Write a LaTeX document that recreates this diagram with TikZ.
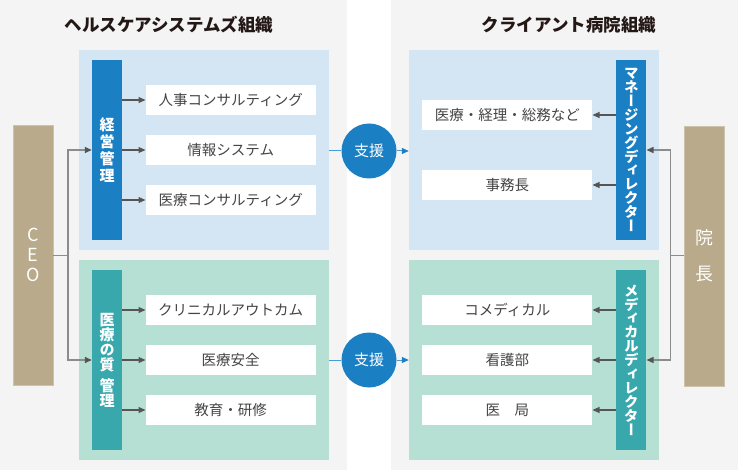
\documentclass[tikz,border=0pt]{standalone}
\usepackage{fontspec}
\setmainfont{Noto Sans CJK JP}
\newfontfamily\vjp[RawFeature=+vert]{Noto Sans CJK JP}
\usetikzlibrary{arrows.meta}
\definecolor{bggray}{HTML}{F4F4F4}
\definecolor{lblue}{HTML}{D4E6F4}
\definecolor{lgreen}{HTML}{B6E0D3}
\definecolor{dblue}{HTML}{1B7FC3}
\definecolor{teal}{HTML}{38A8AD}
\definecolor{tan}{HTML}{B8AA8A}
\definecolor{txt}{HTML}{444444}
\definecolor{ttl}{HTML}{231815}
\definecolor{arrgray}{HTML}{555555}
\definecolor{linegray}{HTML}{8C8C8C}
\definecolor{bline}{HTML}{4A9AD4}
\tikzset{
  cont/.style={minimum width=250pt,minimum height=200pt,inner sep=0pt},
  wbox/.style={fill=white,minimum width=170pt,minimum height=30pt,inner sep=0pt,text=txt,font=\fontsize{14.5pt}{16pt}\selectfont},
  bar/.style={minimum width=30pt,minimum height=180pt,inner sep=0pt,text=white,align=center},
  tanbox/.style={fill=tan,draw=tan!70!white,line width=0.6pt,minimum width=40pt,minimum height=260pt,inner sep=0pt,text=white,align=center},
  title/.style={text=ttl,font=\fontsize{17.5pt}{20pt}\selectfont\bfseries},
  arr/.style={draw=arrgray,line width=1.1pt,-{Triangle[length=7pt,width=6pt]}},
  gline/.style={draw=linegray,line width=1.4pt},
  garr/.style={draw=linegray,line width=1.4pt,-{Triangle[length=7pt,width=6pt,color=arrgray]}},
  circ/.style={circle,fill=dblue,minimum size=55pt,inner sep=0pt,text=white,font=\fontsize{15pt}{16pt}\selectfont},
  bl/.style={draw=bline,line width=1pt},
  barr/.style={draw=bline,line width=1pt,-{Triangle[length=7pt,width=6pt,color=dblue]}},
}
\begin{document}
\begin{tikzpicture}[x=1pt,y=-1pt]
\useasboundingbox (0,0) rectangle (738,470);
\fill[bggray] (0,0) rectangle (347,470);
\fill[bggray] (391,0) rectangle (738,470);

% titles
\node[title] (t1) at (169,25) {ヘルスケアシステムズ組織};
\node[title] (t2) at (569,25) {クライアント病院組織};

% containers
\node[cont,fill=lblue] (lc1) at (204,150) {};
\node[cont,fill=lgreen] (lc2) at (204,360) {};
\node[cont,fill=lblue] (rc1) at (534,150) {};
\node[cont,fill=lgreen] (rc2) at (534,360) {};

% left bars
\node[bar,fill=dblue,font=\vjp\fontsize{15pt}{16.8pt}\selectfont\bfseries] (mg) at (107,150) {経\\営\\管\\理};
\node[bar,fill=teal,font=\vjp\fontsize{15pt}{15pt}\selectfont\bfseries] (ql) at (107,360) {医\\療\\の\\質\\[6pt]管\\理};

% right bars
\node[bar,fill=dblue,font=\vjp\fontsize{14.5pt}{13.9pt}\selectfont\bfseries] (md) at (631.3,150) {マ\\ネ\\ー\\ジ\\ン\\グ\\デ\\ィ\\レ\\ク\\タ\\ー};
\node[bar,fill=teal,font=\vjp\fontsize{14.5pt}{13.9pt}\selectfont\bfseries] (dd) at (631.3,360) {メ\\デ\\ィ\\カ\\ル\\デ\\ィ\\レ\\ク\\タ\\ー};

% left white boxes
\node[wbox] (a1) at (230.7,100) {人事コンサルティング};
\node[wbox] (a2) at (230.7,150) {情報システム};
\node[wbox] (a3) at (230.7,200) {医療コンサルティング};
\node[wbox] (b1) at (230.7,310) {クリニカルアウトカム};
\node[wbox] (b2) at (230.7,360) {医療安全};
\node[wbox] (b3) at (230.7,410) {教育・研修};

% right white boxes
\node[wbox] (c1) at (507.3,115) {医療・経理・総務など};
\node[wbox] (c2) at (507.3,185) {事務長};
\node[wbox] (d1) at (507.3,310) {コメディカル};
\node[wbox] (d2) at (507.3,360) {看護部};
\node[wbox] (d3) at (507.3,410) {医　局};

% CEO and 院長
\node[tanbox,font=\fontsize{18pt}{20pt}\selectfont] (ceo) at (33,255) {C\\E\\O};
\node[tanbox,font=\fontsize{18pt}{36pt}\selectfont] (dir) at (704.7,256) {院\\長};

% circles
\node[circ] (s1) at (369,151) {支援};
\node[circ] (s2) at (369,360) {支援};

% bar -> boxes
\foreach \n in {a1,a2,a3} \draw[arr] (mg.east |- \n) -- (\n.west);
\foreach \n in {b1,b2,b3} \draw[arr] (ql.east |- \n) -- (\n.west);
\foreach \n in {c1,c2} \draw[arr] (md.west |- \n) -- (\n.east);
\foreach \n in {d1,d2,d3} \draw[arr] (dd.west |- \n) -- (\n.east);

% CEO connectors
\coordinate (cj) at (68,255.7);
\draw[gline] (ceo.east |- cj) -- (cj);
\draw[garr] (cj) |- (mg.west);
\draw[garr] (cj) |- (ql.west);

% 院長 connectors
\coordinate (dj) at (670.3,255.7);
\draw[gline] (dir.west |- dj) -- (dj);
\draw[garr] (dj) |- (md.east);
\draw[garr] (dj) |- (dd.east);

% support
\draw[bl] (lc1.east |- s1) -- (s1.west);
\draw[barr] (s1.east) -- (rc1.west |- s1);
\draw[bl] (lc2.east |- s2) -- (s2.west);
\draw[barr] (s2.east) -- (rc2.west |- s2);
\end{tikzpicture}
\end{document}
